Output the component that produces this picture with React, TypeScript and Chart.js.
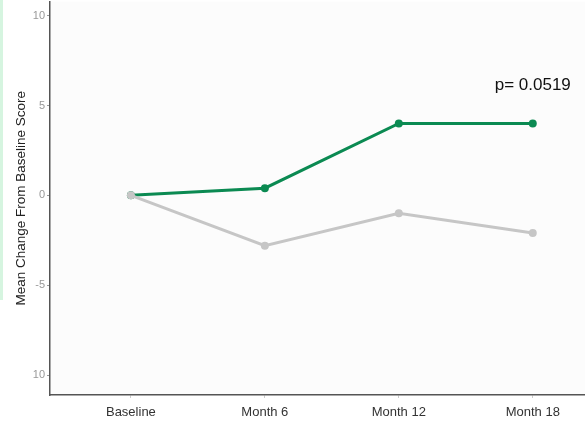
import React, { useEffect, useRef } from "react";
import { Chart, registerables } from "chart.js";

Chart.register(...registerables);

const categories = ["Baseline", "Month 6", "Month 12", "Month 18"];
const treatmentValues = [0, 0.4, 4.0, 4.0];
const controlValues = [0, -2.8, -1.0, -2.1];
const yTickValues = [-10, -5, 0, 5, 10];
const yTickLabels = ["10", "-5", "0", "5", "10"];
const pLabel = "p= 0.0519";
const pPos = { x: 3, y: 6.1 };

const FONT = "Arial, 'Liberation Sans', sans-serif";

export default function App() {
  const ref = useRef<HTMLCanvasElement | null>(null);

  useEffect(() => {
    if (!ref.current) return;
    document.body.style.margin = "0";
    const annot = {
      id: "pAnnot",
      afterDatasetsDraw(chart: any) {
        const { ctx, scales } = chart;
        const x = scales.x.getPixelForValue(pPos.x);
        const y = scales.y.getPixelForValue(pPos.y);
        ctx.save();
        ctx.font = "17px " + FONT;
        ctx.fillStyle = "#111";
        ctx.textAlign = "center";
        ctx.textBaseline = "middle";
        ctx.fillText(pLabel, x, y);
        ctx.restore();
      },
    };
    const bg = {
      id: "bg",
      beforeDraw(chart: any) {
        const { ctx, chartArea } = chart;
        ctx.save();
        ctx.fillStyle = "#fcfcfc";
        ctx.fillRect(chartArea.left, chartArea.top, chartArea.right - chartArea.left, chartArea.bottom - chartArea.top);
        ctx.restore();
      },
    };
    const chart = new Chart(ref.current, {
      type: "line",
      data: {
        datasets: [
          {
            label: "Control",
            data: controlValues.map((v, i) => ({ x: i, y: v })),
            borderColor: "#c6c6c6",
            backgroundColor: "#c6c6c6",
            borderWidth: 3,
            pointRadius: 4,
            pointBorderWidth: 0,
            tension: 0,
          },
          {
            label: "Treatment",
            data: treatmentValues.map((v, i) => ({ x: i, y: v })),
            borderColor: "#0b8a52",
            backgroundColor: "#0b8a52",
            borderWidth: 3,
            pointRadius: 4,
            pointBorderWidth: 0,
            tension: 0,
          },
        ],
      },
      options: {
        animation: false,
        responsive: false,
        maintainAspectRatio: false,
        layout: { padding: 0 },
        plugins: { legend: { display: false }, tooltip: { enabled: false } },
        scales: {
          x: {
            type: "linear",
            min: -0.604,
            max: 3.39,
            afterBuildTicks(scale: any) {
              scale.ticks = categories.map((_, i) => ({ value: i }));
            },
            afterFit(scale: any) {
              scale.height = 30;
            },
            ticks: {
              autoSkip: false,
              maxRotation: 0,
              padding: 7,
              color: "#333",
              font: { family: FONT, size: 13 },
              callback: (v: any) => categories[v] ?? "",
            },
            grid: { drawOnChartArea: false, drawTicks: true, tickLength: 3, color: "#ccc" },
            border: { display: true, color: "#555", width: 1.5 },
          },
          y: {
            type: "linear",
            min: -11.11,
            max: 10.78,
            afterBuildTicks(scale: any) {
              scale.ticks = yTickValues.map((v) => ({ value: v }));
            },
            afterFit(scale: any) {
              scale.width = 50;
            },
            ticks: {
              autoSkip: false,
              padding: 2,
              color: "#999",
              font: { family: FONT, size: 11 },
              callback: (v: any) => {
                const i = yTickValues.indexOf(v);
                return i >= 0 ? yTickLabels[i] : "";
              },
            },
            title: {
              display: true,
              text: "Mean Change From Baseline Score",
              color: "#222",
              padding: { top: 13, bottom: 0 },
              font: { family: FONT, size: 13.5 },
            },
            grid: { drawOnChartArea: false, drawTicks: true, tickLength: 3, color: "#999" },
            border: { display: true, color: "#555", width: 1.5 },
          },
        },
      },
      plugins: [bg, annot],
    });
    return () => chart.destroy();
  }, []);

  return (
    <div style={{ position: "relative", width: 585, height: 425, background: "#fff", overflow: "hidden" }}>
      <div style={{ position: "absolute", left: 0, top: 0, width: 3, height: 300, background: "#d6f5e0", zIndex: 1 }} />
      <canvas
        ref={ref}
        width={589}
        height={432}
        style={{ display: "block", position: "absolute", left: 0, top: -7 }}
      />
    </div>
  );
}
